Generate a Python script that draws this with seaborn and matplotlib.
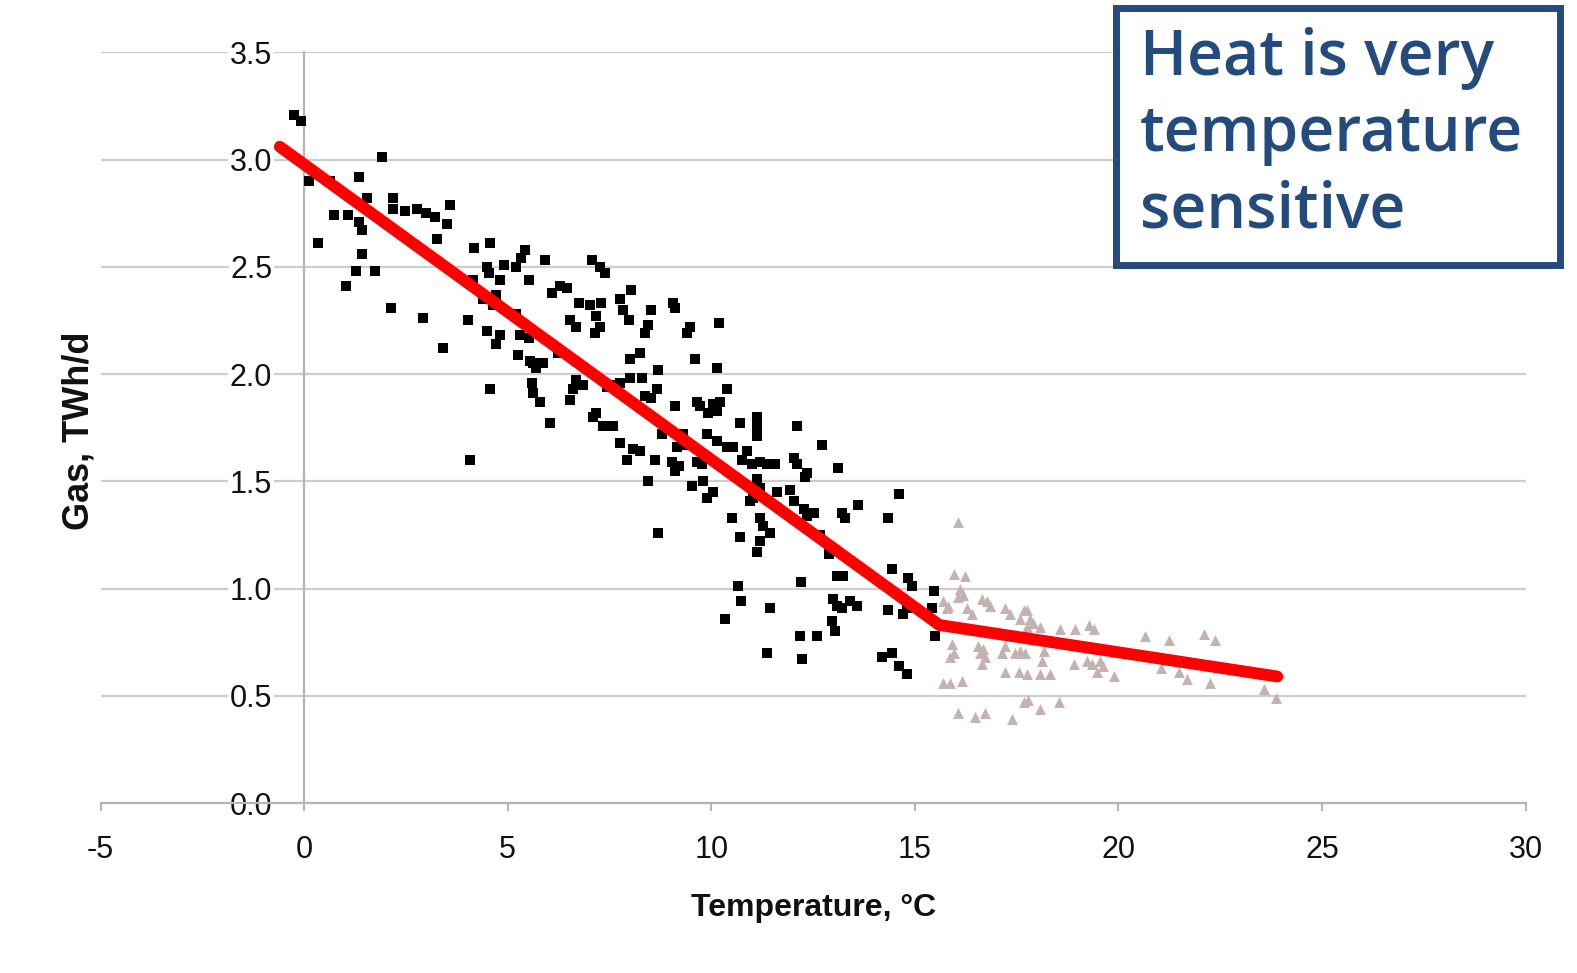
import seaborn as sns
import pandas as pd
import matplotlib.pyplot as plt
from matplotlib.patches import Rectangle
from matplotlib.ticker import FormatStrFormatter, MultipleLocator

# daily gas demand vs mean temperature, colder days (black squares)
cold_temp = [-0.25, -0.07, 0.13, 0.63, 1.90, 1.35, 1.54, 2.18, 2.47, 2.18,
             2.76, 3.00, 3.21, 3.58, 3.50, 3.26, 0.73, 1.08, 1.35, 1.43,
             0.34, 1.43, 1.28, 1.73, 1.03, 2.14, 2.92, 3.41,
             4.17, 4.56, 5.42, 5.33, 5.21, 4.48, 4.54, 4.90, 4.82, 5.53, 5.92,
             7.06, 7.26, 7.39, 6.08, 6.28, 6.45,
             6.76, 7.01, 7.30, 7.17, 7.26, 7.14, 6.52, 6.68,
             4.15, 4.40, 4.64, 4.72, 4.03, 4.48, 4.81, 4.72,
             5.21, 5.29, 5.53, 5.26, 5.54, 5.70, 5.86, 5.62, 6.24,
             4.56, 5.59, 5.63, 5.79, 6.68, 6.60, 7.17, 4.07, 6.05,
             7.75, 8.03, 7.83, 7.99, 8.53, 9.07, 9.11, 8.45, 8.37, 9.48, 9.40, 10.18,
             8.25, 8.00, 8.70, 9.60, 10.13, 7.75, 8.00, 8.29, 8.66,
             6.85, 6.52, 7.43, 7.67, 8.37, 8.53, 9.11,
             9.65, 9.73, 9.93, 10.05, 10.22, 10.38, 10.13,
             7.10, 7.34, 7.59, 7.75, 8.08, 8.25, 7.92, 8.61, 9.03, 9.11, 9.20, 8.45, 8.78,
             9.31, 9.40, 9.15, 9.89, 9.52, 9.80, 9.89, 10.05, 9.65, 9.77,
             10.13, 10.38, 10.54, 10.70, 11.11, 11.11, 11.11,
             10.87, 10.75, 11.00, 11.20, 11.37, 11.57,
             12.10, 12.71, 12.02, 12.10, 12.35, 12.31, 13.12,
             11.11, 11.20, 11.61, 11.94, 12.02,
             12.27, 12.35, 12.51, 13.20, 13.28, 13.61, 14.35, 14.60,
             10.50, 11.20, 11.28, 11.44, 11.03, 10.95,
             8.70, 10.70, 11.20, 12.67,
             11.11, 12.88, 13.08, 13.24, 14.43, 14.84, 14.92, 12.21, 10.66, 10.74,
             10.34, 11.43, 13.00, 13.08, 13.20, 13.41, 13.57, 12.96, 13.04,
             14.35, 14.72, 14.80, 15.46, 15.42, 15.50, 12.18, 12.59, 11.36, 12.22,
             14.19, 14.43, 14.60, 14.80]
cold_gas = [3.21, 3.18, 2.90, 2.90, 3.01, 2.92, 2.82, 2.82, 2.76, 2.77,
            2.77, 2.75, 2.73, 2.79, 2.70, 2.63, 2.74, 2.74, 2.71, 2.67,
            2.61, 2.56, 2.48, 2.48, 2.41, 2.31, 2.26, 2.12,
            2.59, 2.61, 2.58, 2.54, 2.50, 2.50, 2.47, 2.51, 2.44, 2.44, 2.53,
            2.53, 2.50, 2.47, 2.38, 2.41, 2.40,
            2.33, 2.32, 2.33, 2.27, 2.22, 2.19, 2.25, 2.22,
            2.44, 2.35, 2.32, 2.37, 2.25, 2.20, 2.18, 2.14,
            2.28, 2.18, 2.17, 2.09, 2.06, 2.03, 2.05, 2.05, 2.10,
            1.93, 1.96, 1.91, 1.87, 1.97, 1.93, 1.82, 1.60, 1.77,
            2.35, 2.39, 2.30, 2.25, 2.30, 2.33, 2.31, 2.23, 2.19, 2.22, 2.19, 2.24,
            2.10, 2.07, 2.02, 2.07, 2.03, 1.96, 1.98, 1.98, 1.93,
            1.95, 1.88, 1.94, 1.95, 1.90, 1.89, 1.85,
            1.87, 1.85, 1.82, 1.86, 1.87, 1.93, 1.83,
            1.80, 1.76, 1.76, 1.68, 1.65, 1.64, 1.60, 1.60, 1.59, 1.55, 1.57, 1.50, 1.72,
            1.72, 1.67, 1.66, 1.72, 1.48, 1.50, 1.42, 1.45, 1.59, 1.58,
            1.69, 1.66, 1.66, 1.77, 1.80, 1.76, 1.71,
            1.64, 1.60, 1.58, 1.59, 1.58, 1.58,
            1.76, 1.67, 1.61, 1.58, 1.54, 1.52, 1.56,
            1.51, 1.47, 1.45, 1.46, 1.41,
            1.37, 1.34, 1.35, 1.35, 1.33, 1.39, 1.33, 1.44,
            1.33, 1.33, 1.29, 1.26, 1.42, 1.41,
            1.26, 1.24, 1.22, 1.25,
            1.17, 1.16, 1.06, 1.06, 1.09, 1.05, 1.01, 1.03, 1.01, 0.94,
            0.86, 0.91, 0.95, 0.92, 0.91, 0.94, 0.92, 0.85, 0.80,
            0.90, 0.88, 0.91, 0.99, 0.91, 0.78, 0.78, 0.78, 0.70, 0.67,
            0.68, 0.70, 0.64, 0.60]

# warmer days (grey triangles)
warm_temp = [16.07, 15.95, 16.24, 16.11, 16.19, 16.07, 15.70, 15.78, 15.82,
             16.64, 16.85, 16.77, 16.28, 16.40, 17.22, 17.34,
             17.67, 17.75, 17.83, 17.59, 17.91, 18.08, 17.75,
             18.57, 18.94, 19.27, 19.39, 20.66, 21.24, 22.09, 22.38,
             15.91, 15.95, 15.87, 16.56, 16.68, 16.60, 16.72, 16.64,
             17.22, 17.14, 17.47, 17.59, 17.71, 18.16, 18.12,
             18.90, 19.23, 19.35, 19.55, 19.63, 19.47, 19.88,
             21.04, 21.49, 21.69, 22.26, 23.57, 23.86,
             15.70, 15.87, 16.16, 17.22, 17.55, 17.75, 18.08, 18.33,
             17.67, 17.79, 18.08, 18.53, 16.07, 16.48, 16.72, 17.38]
warm_gas = [1.31, 1.07, 1.06, 1.00, 0.97, 0.96, 0.94, 0.91, 0.92,
            0.95, 0.92, 0.94, 0.91, 0.88, 0.91, 0.88,
            0.90, 0.90, 0.86, 0.86, 0.84, 0.82, 0.82,
            0.81, 0.81, 0.83, 0.81, 0.78, 0.76, 0.79, 0.76,
            0.74, 0.70, 0.68, 0.73, 0.72, 0.70, 0.68, 0.65,
            0.73, 0.70, 0.70, 0.71, 0.70, 0.71, 0.66,
            0.65, 0.66, 0.65, 0.66, 0.64, 0.61, 0.59,
            0.63, 0.61, 0.58, 0.56, 0.53, 0.49,
            0.56, 0.56, 0.57, 0.61, 0.61, 0.60, 0.60, 0.60,
            0.47, 0.48, 0.44, 0.47, 0.42, 0.40, 0.42, 0.39]

# piecewise linear fit (red line)
fit_temp = [-0.6, 15.6, 23.9]
fit_gas = [3.06, 0.83, 0.59]

sns.set_theme(style="white")
plt.rcParams["font.family"] = ["Liberation Sans", "DejaVu Sans"]
plt.rcParams["axes.unicode_minus"] = False

cold = pd.DataFrame({"temp": cold_temp, "gas": cold_gas})
warm = pd.DataFrame({"temp": warm_temp, "gas": warm_gas})
fit = pd.DataFrame({"temp": fit_temp, "gas": fit_gas})

fig = plt.figure(figsize=(15.77, 9.73), dpi=100)
ax = fig.add_axes([0.0638, 0.1747, 0.9036, 0.7715])

sns.scatterplot(data=cold, x="temp", y="gas", marker="s", s=52, color="black",
                linewidth=0, ax=ax, zorder=3)
sns.scatterplot(data=warm, x="temp", y="gas", marker="^", s=62, color="#c4b2b2",
                linewidth=0, ax=ax, zorder=3)
sns.lineplot(data=fit, x="temp", y="gas", color="#ff0000", lw=8.5, sort=False,
             ax=ax, zorder=4)

ax.set_xlim(-5, 30)
ax.set_ylim(0, 3.5)
ax.xaxis.set_major_locator(MultipleLocator(5))
ax.yaxis.set_major_locator(MultipleLocator(0.5))
ax.yaxis.set_major_formatter(FormatStrFormatter("%.1f"))

ax.set_axisbelow(True)
ax.yaxis.grid(True, color="#cdcdcd", lw=1.6)
ax.xaxis.grid(False)

for side in ["top", "right"]:
    ax.spines[side].set_visible(False)
ax.spines["left"].set_position(("data", 0))
for side in ["left", "bottom"]:
    ax.spines[side].set_color("#b5b5b5")
    ax.spines[side].set_linewidth(1.6)

ax.tick_params(axis="y", left=False, length=0, pad=23, labelsize=22,
               labelcolor="#111111")
ax.tick_params(axis="x", bottom=True, length=6, width=1.5, color="#b5b5b5",
               direction="out", pad=17, labelsize=22, labelcolor="#111111")
for lbl in ax.get_yticklabels():
    lbl.set_bbox(dict(facecolor="white", edgecolor="none", pad=1))

ax.set_xlabel("Temperature, °C", fontsize=23, fontweight="bold", color="#111111")
ax.xaxis.set_label_coords(0.5, -0.14)
ax.xaxis.label.set_va("center")
ax.set_ylabel("Gas, TWh/d", fontsize=26, fontweight="bold", color="#111111")
ax.yaxis.set_label_coords(-0.0155, 0.496)
ax.yaxis.label.set_va("center")

fig.add_artist(Rectangle((0.7075, 0.7276), 0.2817, 0.2641, transform=fig.transFigure,
                         facecolor="white", edgecolor="#234b7d", lw=5, zorder=5))
fig.text(1140 / 1577, 1 - 27 / 973, "Heat is very\ntemperature\nsensitive",
         ha="left", va="top", fontsize=45, color="#234b7d", linespacing=1.28,
         family=["Open Sans", "DejaVu Sans"], fontweight="semibold", zorder=6)

fig.savefig("out.png", dpi=100, facecolor="white")
